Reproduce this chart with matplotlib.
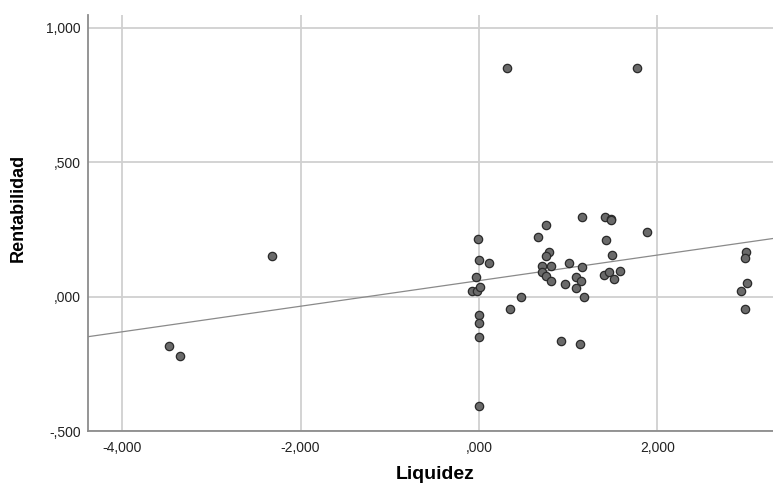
import matplotlib
matplotlib.use("Agg")
import matplotlib.pyplot as plt
import numpy as np

# Data
liquidez = [-3.470, -3.354, -2.316, 0.317, 1.770,
            -0.008, 0.000, 0.116, -0.034, -0.075, -0.027, 0.011,
            0.000, 0.003, 0.003, 0.000, 0.471, 0.351,
            0.665, 0.747, 0.784, 0.751, 0.706, 0.810, 0.706, 0.747, 0.810,
            0.964, 1.008, 1.158, 1.158, 1.087, 1.146, 1.087, 1.173,
            0.922, 1.132, 1.412, 1.476, 1.483, 1.427, 1.487, 1.401,
            1.457, 1.516, 1.580, 1.882,
            2.988, 2.980, 2.999, 2.936, 2.980]
rentabilidad = [-0.185, -0.221, 0.150, 0.851, 0.851,
                0.214, 0.138, 0.124, 0.074, 0.022, 0.022, 0.035,
                -0.067, -0.098, -0.149, -0.406, 0.000, -0.045,
                0.222, 0.265, 0.165, 0.150, 0.115, 0.115, 0.090, 0.076, 0.058,
                0.048, 0.124, 0.296, 0.112, 0.074, 0.058, 0.033, 0.000,
                -0.164, -0.178, 0.296, 0.289, 0.284, 0.211, 0.154, 0.081,
                0.092, 0.066, 0.094, 0.242,
                0.167, 0.142, 0.051, 0.020, -0.045]

fit_intercept = 0.0595
fit_slope = 0.0476

x_ticks = [-4, -2, 0, 2]
x_tick_labels = ["-4,000", "-2,000", ",000", "2,000"]
y_ticks = [-0.5, 0.0, 0.5, 1.0]
y_tick_labels = ["-,500", ",000", ",500", "1,000"]

plt.rcParams['font.family'] = ['Liberation Sans', 'DejaVu Sans']

fig = plt.figure(figsize=(7.73, 4.86), dpi=100)
ax = fig.add_axes([88/773, 55/486, 685/773, 416/486])

xmin, xmax = -4.382, 3.295
ymin, ymax = -0.5, 1.048
ax.set_xlim(xmin, xmax)
ax.set_ylim(ymin, ymax)

ax.set_axisbelow(True)
ax.grid(True, color='#d0d0d0', linewidth=1.3)

xs = np.array([xmin, xmax])
ax.plot(xs, fit_intercept + fit_slope * xs, color='#8a8a8a', linewidth=0.9, zorder=2)

ax.scatter(liquidez, rentabilidad, s=36, facecolor='#6a6a6a', edgecolor='#2a2a2a',
           linewidth=0.9, zorder=3)

ax.set_xticks(x_ticks)
ax.set_xticklabels(x_tick_labels)
ax.set_yticks(y_ticks)
ax.set_yticklabels(y_tick_labels)
ax.tick_params(axis='both', length=0, labelsize=10, colors='#222222')
ax.tick_params(axis='x', pad=7)
ax.tick_params(axis='y', pad=5)

for s in ['top', 'right']:
    ax.spines[s].set_visible(False)
for s in ['left', 'bottom']:
    ax.spines[s].set_color('#8c8c8c')
    ax.spines[s].set_linewidth(1.3)

ax.set_xlabel('Liquidez', fontsize=14, fontweight='bold')
ax.set_ylabel('Rentabilidad', fontsize=13, fontweight='bold')
ax.xaxis.set_label_coords(0.507, -0.085)
ax.yaxis.set_label_coords(-0.09, 0.536)

fig.savefig('out.png', dpi=100)
